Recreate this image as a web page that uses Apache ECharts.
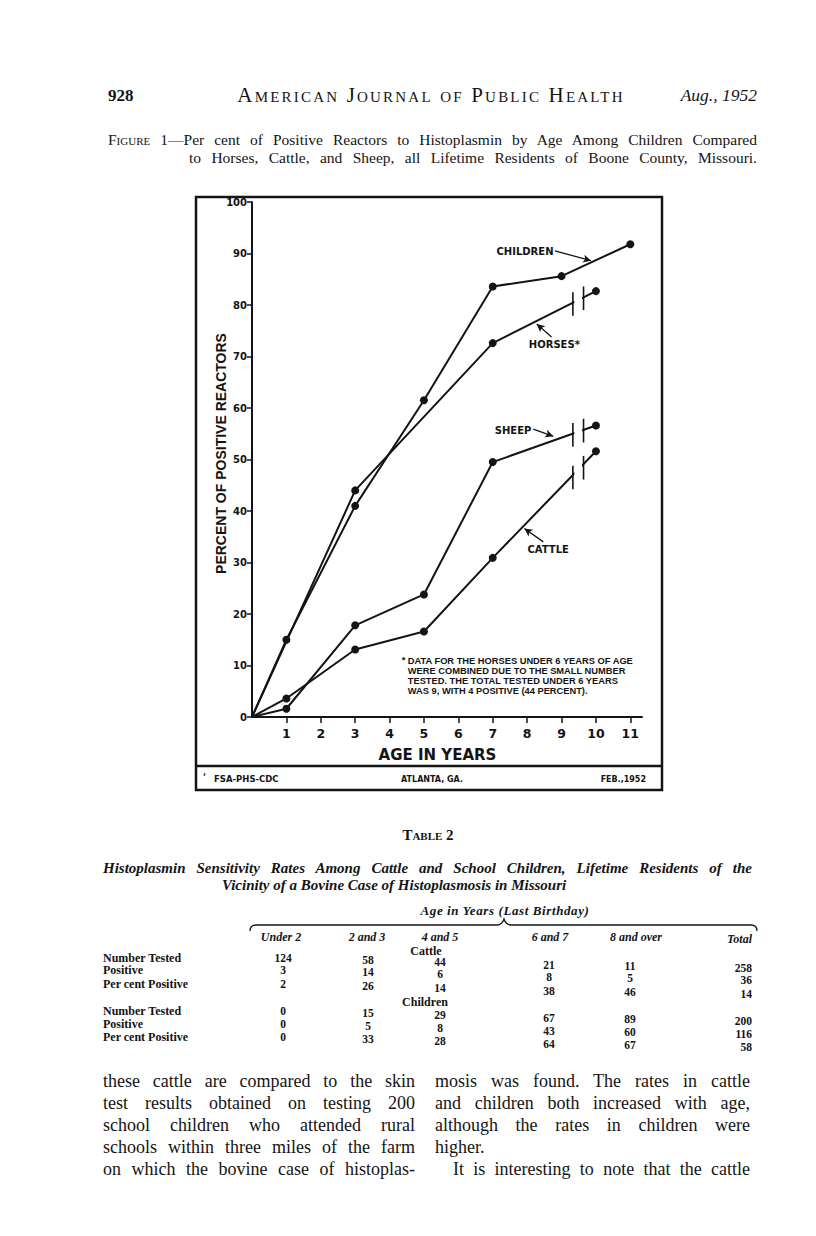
<!DOCTYPE html>
<html>
<head>
<meta charset="utf-8">
<script src="https://cdn.jsdelivr.net/npm/echarts/dist/echarts.min.js"></script>
<style>
  html, body { margin: 0; padding: 0; background: #fff; }
  body { width: 816px; height: 1236px; position: relative; overflow: hidden; font-family: "Liberation Serif", "DejaVu Serif", serif; color: #141414; }
  #chart { position: absolute; left: 0; top: 0; width: 816px; height: 1236px; }
  .t { position: absolute; white-space: nowrap; }
</style>
</head>
<body>
<div id="chart"></div>
<svg id="brace" width="816" height="1236" style="position:absolute;left:0;top:0;pointer-events:none">
  <path d="M250,931 Q250,925 256,925 L497,925 Q502,925 504,919 Q506,925 511,925 L751,925 Q757,925 757,931" fill="none" stroke="#141414" stroke-width="1.3"/>
</svg>
<script>
// ---------------- chart data ----------------
const childrenAges = [0, 1, 3, 5, 7, 9, 11];
const childrenPct  = [0, 15, 41, 61.5, 83.6, 85.6, 91.8];
const horsesAges   = [0, 3, 7, 10];
const horsesPct    = [0, 44, 72.6, 82.7];
const sheepAges    = [0, 1, 3, 5, 7, 10];
const sheepPct     = [0, 1.6, 17.8, 23.8, 49.5, 56.6];
const cattleAges   = [0, 1, 3, 5, 7, 10];
const cattlePct    = [0, 3.6, 13.1, 16.6, 30.9, 51.6];
const xTickValues  = [1, 2, 3, 4, 5, 6, 7, 8, 9, 10, 11];

// scale-break marks (age positions and line level at each mark)
const breakAges    = [9.33, 9.64];
const horsesBreak  = [80.2, 81.3];
const sheepBreak   = [54.8, 55.6];
const cattleBreak  = [46.5, 48.4];

// ---------------- table data ----------------
const tableColumns   = ["Under 2", "2 and 3", "4 and 5", "6 and 7", "8 and over", "Total"];
const rowLabels      = ["Number Tested", "Positive", "Per cent Positive"];
const cattleTested   = [124, 58, 44, 21, 11, 258];
const cattlePositive = [3, 14, 6, 8, 5, 36];
const cattlePercent  = [2, 26, 14, 38, 46, 14];
const childTested    = [0, 15, 29, 67, 89, 200];
const childPositive  = [0, 5, 8, 43, 60, 116];
const childPercent   = [0, 33, 28, 64, 67, 58];

// ---------------- body text ----------------
const leftColumn = [
  "these cattle are compared to the skin",
  "test results obtained on testing 200",
  "school children who attended rural",
  "schools within three miles of the farm",
  "on which the bovine case of histoplas-"
];
const rightColumn = [
  "mosis was found.  The rates in cattle",
  "and children both increased with age,",
  "although the rates in children were",
  "higher.",
  "It is interesting to note that the cattle"
];

// ---------------- HTML text helper ----------------
function addText(str, x, y, size, o) {
  o = o || {};
  const d = document.createElement('div');
  d.className = 't';
  d.textContent = str;
  d.style.fontSize = size + 'px';
  d.style.lineHeight = size + 'px';
  d.style.top = (y - size * 0.52) + 'px';
  if (o.italic) d.style.fontStyle = 'italic';
  if (o.bold) d.style.fontWeight = 'bold';
  if (o.smallcaps) d.style.fontVariant = 'small-caps';
  if (o.spacing) d.style.letterSpacing = o.spacing + 'px';
  if (o.family) d.style.fontFamily = o.family;
  if (o.width) {
    d.style.left = x + 'px';
    d.style.width = o.width + 'px';
    d.style.whiteSpace = 'normal';
    d.style.textAlign = 'justify';
    d.style.textAlignLast = o.noLast ? 'left' : 'justify';
  } else if (o.align === 'center') {
    d.style.left = x + 'px';
    d.style.transform = 'translateX(-50%)';
  } else if (o.align === 'right') {
    d.style.right = (816 - x) + 'px';
  } else {
    d.style.left = x + 'px';
  }
  document.body.appendChild(d);
  return d;
}

// page header
addText("928", 108, 96, 17, {bold: true});
addText("American Journal of Public Health", 431, 96, 21, {smallcaps: true, align: 'center', spacing: 2.2});
addText("Aug., 1952", 757, 96, 17.5, {italic: true, align: 'right'});

// figure caption
(function () {
  const d = addText("", 108, 140, 15.5, {width: 649});
  d.innerHTML = '<span style="font-variant:small-caps">Figure</span> 1—Per cent of Positive Reactors to Histoplasmin by Age Among Children Compared';
  addText("to Horses, Cattle, and Sheep, all Lifetime Residents of Boone County, Missouri.", 189, 158, 15.5, {width: 568});
})();

// table
addText("Table 2", 428, 836, 15, {smallcaps: true, align: 'center', bold: true});
addText("Histoplasmin Sensitivity Rates Among Cattle and School Children, Lifetime Residents of the", 103, 869, 15, {italic: true, bold: true, width: 649});
addText("Vicinity of a Bovine Case of Histoplasmosis in Missouri", 222, 886, 15, {italic: true, bold: true});
addText("Age in Years (Last Birthday)", 505, 911, 13, {italic: true, bold: true, align: 'center', spacing: 0.6});

const colCenters = [283, 368, 440, 549, 630];
const colOffsets = [1, 3, 5, 8, 9, 11];
const hdrCenters = [281, 367, 440, 550, 636];
tableColumns.forEach(function (c, i) {
  if (i < 5) addText(c, hdrCenters[i], 937, 12, {italic: true, bold: true, align: 'center'});
  else addText(c, 752, 939, 12, {italic: true, bold: true, align: 'right'});
});
addText("Cattle", 426, 951, 12, {bold: true, align: 'center'});
addText("Children", 425, 1002, 12, {bold: true, align: 'center'});

function addRows(rows, ys) {
  rows.forEach(function (vals, r) {
    addText(rowLabels[r], 103, ys[r], 12, {bold: true});
    vals.forEach(function (v, i) {
      const y = ys[r] + colOffsets[i];
      if (i < 5) addText(String(v), colCenters[i], y, 11.5, {align: 'center', bold: true});
      else addText(String(v), 752, y, 11.5, {align: 'right', bold: true});
    });
  });
}
addRows([cattleTested, cattlePositive, cattlePercent], [958, 970, 984]);
addRows([childTested, childPositive, childPercent], [1011, 1024, 1037]);

// body columns
leftColumn.forEach(function (s, i) {
  addText(s, 103, 1081 + i * 22, 18, {width: 312});
});
rightColumn.forEach(function (s, i) {
  if (i === 3) addText(s, 435, 1081 + i * 22, 18);
  else if (i === 4) addText(s, 453, 1081 + i * 22, 18, {width: 297});
  else addText(s, 435, 1081 + i * 22, 18, {width: 315});
});

// ---------------- chart ----------------
const INK = '#141414';
const chart = echarts.init(document.getElementById('chart'), null, {renderer: 'svg', width: 816, height: 1236});

function pairs(xs, ys) { return xs.map(function (x, i) { return [x, ys[i]]; }); }
function arrow(from, to) {
  return [
    {coord: from, symbol: 'none'},
    {coord: to, symbol: 'arrow', symbolSize: [6, 8]}
  ];
}
function lineSeries(name, data, arrowDef) {
  return {
    name: name,
    type: 'line',
    data: data,
    symbol: 'circle',
    symbolSize: function (v) { return v[0] === 0 ? 0 : 8; },
    showSymbol: true,
    lineStyle: {color: INK, width: 2},
    itemStyle: {color: INK},
    z: 3,
    markLine: {
      silent: true,
      symbol: ['none', 'arrow'],
      label: {show: false},
      lineStyle: {color: INK, width: 1.3, type: 'solid', curveness: arrowDef.curve},
      data: [arrow(arrowDef.from, arrowDef.to)]
    }
  };
}

const labelFont = 'bold 10px "DejaVu Sans", sans-serif';

chart.setOption({
  animation: false,
  backgroundColor: 'transparent',
  grid: {left: 252, top: 202, width: 390, height: 515, containLabel: false},
  xAxis: {
    type: 'value', min: 0, max: 11.34, interval: 1,
    axisLine: {show: true, lineStyle: {color: INK, width: 2}},
    axisTick: {show: true, length: 6, lineStyle: {color: INK, width: 1.5}, customValues: xTickValues},
    axisLabel: {show: true, margin: 10, color: INK, fontSize: 12.5, fontWeight: 'bold', fontFamily: 'DejaVu Sans', customValues: xTickValues},
    splitLine: {show: false},
    name: 'AGE IN YEARS', nameLocation: 'middle', nameGap: 30, nameMoveOverlap: false,
    nameTextStyle: {color: INK, fontSize: 15, fontWeight: 'bold', fontFamily: 'DejaVu Sans', padding: [0, 19, 0, 0]}
  },
  yAxis: {
    type: 'value', min: 0, max: 100, interval: 10,
    axisLine: {show: true, lineStyle: {color: INK, width: 2}},
    axisTick: {show: true, length: 5, lineStyle: {color: INK, width: 1.5}},
    axisLabel: {show: true, margin: 5, color: INK, fontSize: 10, fontWeight: 'bold', fontFamily: 'DejaVu Sans'},
    splitLine: {show: false},
    name: 'PERCENT OF POSITIVE REACTORS', nameLocation: 'middle', nameGap: 24, nameRotate: 90, nameMoveOverlap: false,
    nameTextStyle: {color: INK, fontSize: 14, fontWeight: 'bold', fontFamily: 'Liberation Sans', padding: [0, 0, 0, 12]}
  },
  series: [
    lineSeries('Children', pairs(childrenAges, childrenPct), {from: [8.81, 90.5], to: [9.86, 88.6], curve: 0.2}),
    lineSeries('Horses', pairs(horsesAges, horsesPct), {from: [8.71, 73.8], to: [8.28, 76.3], curve: 0}),
    lineSeries('Sheep', pairs(sheepAges, sheepPct), {from: [8.18, 55.9], to: [8.76, 54.5], curve: 0.2}),
    lineSeries('Cattle', pairs(cattleAges, cattlePct), {from: [8.47, 34.0], to: [7.92, 36.6], curve: 0})
  ]
});

// annotations placed through the grid's own coordinate system
function px(x, y) { return chart.convertToPixel({gridIndex: 0}, [x, y]); }
const g = [];

// frame
g.push({type: 'rect', z: 1, shape: {x: 196, y: 197, width: 466, height: 593}, style: {fill: 'none', stroke: INK, lineWidth: 2.5}});
g.push({type: 'line', z: 1, shape: {x1: 196, y1: 766, x2: 662, y2: 766}, style: {stroke: INK, lineWidth: 2.5}});
function txt(s, x, y, font, align, extra) {
  return Object.assign({type: 'text', z: 20, style: {text: s, x: x, y: y, font: font, fill: INK,
    align: align || 'left', verticalAlign: 'middle', textAlign: align || 'left', textVerticalAlign: 'middle'}}, extra || {});
}
const footFont = 'bold 8.5px "DejaVu Sans", sans-serif';
g.push(txt('FSA-PHS-CDC', 214, 779, footFont));
g.push(txt('ATLANTA, GA.', 432, 779, 'bold 8px "DejaVu Sans", sans-serif', 'center'));
g.push(txt('FEB.,1952', 646, 779, 'bold 8px "DejaVu Sans", sans-serif', 'right'));
g.push(txt('\u02BC', 203, 777, 'bold 8px "DejaVu Sans", sans-serif'));

// series labels
const seriesLabels = [
  ['CHILDREN', 7.11, 90.4],
  ['HORSES*', 8.05, 72.4],
  ['SHEEP', 7.06, 55.7],
  ['CATTLE', 8.01, 32.5]
];
seriesLabels.forEach(function (l) {
  const p = px(l[1], l[2]);
  g.push(txt(l[0], p[0], p[1], labelFont));
});

// scale breaks
[horsesBreak, sheepBreak, cattleBreak].forEach(function (b) {
  const a = px(breakAges[0], Math.max(b[0], b[1]) + 1.6);
  const c = px(breakAges[1], Math.min(b[0], b[1]) - 1.6);
  g.push({type: 'rect', z: 10, shape: {x: a[0] + 1.5, y: a[1], width: c[0] - a[0] - 3, height: c[1] - a[1]}, style: {fill: '#fff'}});
  breakAges.forEach(function (ax, i) {
    const top = px(ax, b[i] + 2.3), bot = px(ax, b[i] - 2.3);
    g.push({type: 'line', z: 11, shape: {x1: top[0], y1: top[1], x2: bot[0], y2: bot[1]}, style: {stroke: INK, lineWidth: 1.6}});
  });
});

// footnote
const footnote = [
  'DATA FOR THE HORSES UNDER 6 YEARS OF AGE',
  'WERE COMBINED DUE TO THE SMALL NUMBER',
  'TESTED. THE TOTAL TESTED UNDER 6 YEARS',
  'WAS 9, WITH 4 POSITIVE (44 PERCENT).'
];
const fnFont = 'bold 9.3px "Liberation Sans", sans-serif';
const fn0 = px(4.53, 10.9);
g.push(txt('*', fn0[0] - 6, fn0[1] - 1, fnFont));
footnote.forEach(function (s, i) {
  g.push(txt(s, fn0[0], fn0[1] + i * 10.1, fnFont));
});

chart.setOption({graphic: g});
</script>
</body>
</html>
